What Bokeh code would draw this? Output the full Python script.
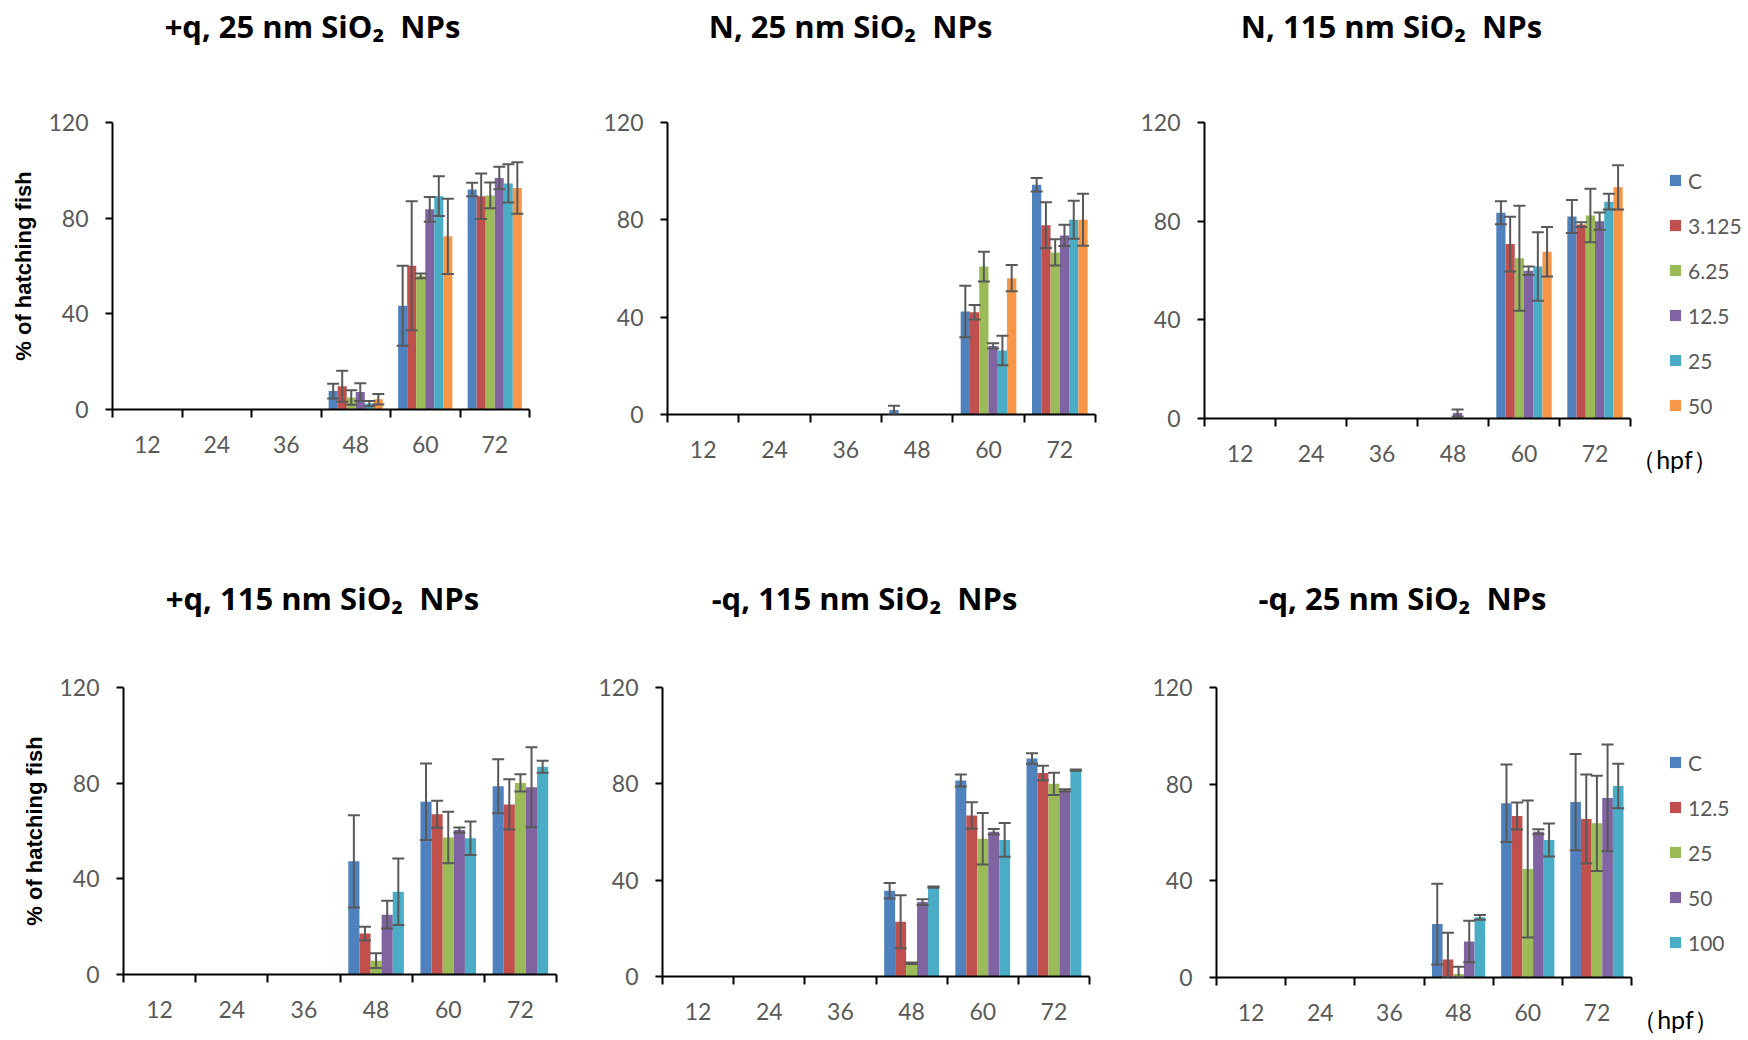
from bokeh.plotting import figure
from bokeh.models import (Range1d, FixedTicker, Whisker, TeeHead, ColumnDataSource,
                          Label, Legend, LegendItem, LinearAxis)
from bokeh.layouts import row, column
from bokeh.embed import file_html
from bokeh.resources import INLINE

# ---------------- data ----------------
hpf = ["12", "24", "36", "48", "60", "72"]
series_a = ["C", "3.125", "6.25", "12.5", "25", "50"]
series_b = ["C", "12.5", "25", "50", "100"]
colors = ["#4F81BD", "#C0504D", "#9BBB59", "#8064A2", "#4BACC6", "#F79646"]
unit_label = "\uff08hpf\uff09"

titles = ["+q, 25 nm SiO\u2082\u00a0 NPs", "N, 25 nm SiO\u2082\u00a0 NPs", "N, 115 nm SiO\u2082\u00a0 NPs",
          "+q, 115 nm SiO\u2082\u00a0 NPs", "-q, 115 nm SiO\u2082\u00a0 NPs", "-q, 25 nm SiO\u2082\u00a0 NPs"]

# +q, 25 nm (rows = series_a, columns = hpf)
p1_mean = [[0, 0, 0, 7.7, 43.4, 92.0],
           [0, 0, 0, 9.7, 60.1, 89.2],
           [0, 0, 0, 5.0, 55.9, 89.5],
           [0, 0, 0, 7.3, 83.7, 96.8],
           [0, 0, 0, 2.5, 89.2, 94.5],
           [0, 0, 0, 4.3, 72.4, 92.6]]
p1_err = [[0, 0, 0, 3.1, 16.7, 2.8],
          [0, 0, 0, 6.5, 27.0, 9.5],
          [0, 0, 0, 3.0, 1.0, 5.4],
          [0, 0, 0, 3.7, 5.2, 4.7],
          [0, 0, 0, 1.1, 8.3, 8.0],
          [0, 0, 0, 2.2, 15.7, 10.8]]

# N, 25 nm
p2_mean = [[0, 0, 0, 1.8, 42.3, 94.4],
           [0, 0, 0, 0, 42.0, 77.8],
           [0, 0, 0, 0, 60.8, 66.6],
           [0, 0, 0, 0, 28.2, 73.6],
           [0, 0, 0, 0, 26.3, 80.0],
           [0, 0, 0, 0, 56.0, 80.0]]
p2_err = [[0, 0, 0, 1.8, 10.6, 2.8],
          [0, 0, 0, 0, 3.0, 9.4],
          [0, 0, 0, 0, 6.1, 5.4],
          [0, 0, 0, 0, 1.1, 4.4],
          [0, 0, 0, 0, 6.1, 7.8],
          [0, 0, 0, 0, 5.4, 10.7]]

# N, 115 nm
p3_mean = [[0, 0, 0, 0, 83.4, 81.9],
           [0, 0, 0, 0, 70.7, 78.6],
           [0, 0, 0, 0, 65.0, 82.3],
           [0, 0, 0, 2.2, 59.9, 80.0],
           [0, 0, 0, 0, 61.6, 87.9],
           [0, 0, 0, 0, 67.6, 93.7]]
p3_err = [[0, 0, 0, 0, 4.7, 6.7],
          [0, 0, 0, 0, 11.1, 1.0],
          [0, 0, 0, 0, 21.3, 10.8],
          [0, 0, 0, 1.4, 1.7, 3.5],
          [0, 0, 0, 0, 13.9, 3.2],
          [0, 0, 0, 0, 10.0, 9.0]]

# +q, 115 nm (rows = series_b)
p4_mean = [[0, 0, 0, 47.3, 72.2, 78.7],
           [0, 0, 0, 17.1, 67.0, 71.1],
           [0, 0, 0, 5.8, 57.3, 80.1],
           [0, 0, 0, 25.0, 60.4, 78.3],
           [0, 0, 0, 34.6, 57.0, 86.9]]
p4_err = [[0, 0, 0, 19.3, 16.0, 11.3],
          [0, 0, 0, 2.9, 5.6, 10.5],
          [0, 0, 0, 3.1, 10.8, 3.6],
          [0, 0, 0, 5.8, 1.1, 16.7],
          [0, 0, 0, 13.9, 7.0, 2.5]]

# -q, 115 nm
p5_mean = [[0, 0, 0, 35.6, 81.4, 90.5],
           [0, 0, 0, 22.7, 66.9, 84.5],
           [0, 0, 0, 5.5, 57.2, 80.0],
           [0, 0, 0, 30.9, 60.1, 77.3],
           [0, 0, 0, 37.1, 56.7, 85.7]]
p5_err = [[0, 0, 0, 3.2, 2.5, 2.2],
          [0, 0, 0, 11.0, 5.5, 3.0],
          [0, 0, 0, 0.3, 10.7, 4.6],
          [0, 0, 0, 1.2, 1.1, 0.5],
          [0, 0, 0, 0.3, 7.0, 0.3]]

# -q, 25 nm
p6_mean = [[0, 0, 0, 22.1, 72.1, 72.6],
           [0, 0, 0, 7.4, 66.8, 65.6],
           [0, 0, 0, 1.5, 44.9, 63.8],
           [0, 0, 0, 14.9, 60.3, 74.3],
           [0, 0, 0, 24.9, 56.9, 79.2]]
p6_err = [[0, 0, 0, 16.7, 16.0, 19.9],
          [0, 0, 0, 11.1, 5.6, 18.4],
          [0, 0, 0, 3.0, 28.3, 19.7],
          [0, 0, 0, 8.6, 1.0, 22.1],
          [0, 0, 0, 1.0, 6.8, 9.2]]

y_ticks = [0, 40, 80, 120]

# ---------------- styling ----------------
FONT = "Lato"
TITLE_FONT = "Open Sans"
GRAY = "#595959"
ERR = "#595959"
# leading blank so that the centred unit label starts at the right end of the axis
UNIT_PAD = "\u3000\u3000\u3000\u00a0\u00a0"


def blank(W, H, x0, y0):
    """A figure without axes whose data units are page pixels (y downwards)."""
    p = figure(frame_width=W, frame_height=H, x_range=Range1d(x0, x0 + W),
               y_range=Range1d(y0 + H, y0), output_backend="svg", toolbar_location=None,
               x_axis_type=None, y_axis_type=None, min_border=0, title=None)
    p.outline_line_color = None
    p.grid.visible = False
    return p


def make_panel(series, means, errs, origin, frame, fig_size, ylabel=False, legend=None,
               unit_standoff=None):
    ox, oy = origin
    fl, ft, fw, fh = frame          # frame in page pixels
    W, H = fig_size
    mbl = fl - ox
    mbt = ft - oy
    p = figure(frame_width=fw, frame_height=fh, x_range=Range1d(0, len(hpf)),
               y_range=Range1d(0, 120), output_backend="svg", toolbar_location=None, title=None,
               min_border_left=mbl, min_border_top=mbt,
               min_border_right=W - mbl - fw, min_border_bottom=H - mbt - fh)
    p.background_fill_color = "white"
    p.border_fill_color = "white"
    p.outline_line_color = None
    p.xgrid.visible = False
    p.ygrid.visible = False

    n = len(series)
    bw = (0.78 if n == 6 else 0.77) / n
    renderers = []
    for j, name in enumerate(series):
        xs = [i + 0.5 + (j - (n - 1) / 2) * bw for i in range(len(hpf))]
        src = ColumnDataSource(dict(x=xs, top=means[j]))
        r = p.vbar(x="x", top="top", bottom=0, width=bw, source=src,
                   fill_color=colors[j], line_color=None)
        renderers.append(r)
        wx, up, lo = [], [], []
        for i in range(len(hpf)):
            if means[j][i] > 0 or errs[j][i] > 0:
                wx.append(xs[i])
                up.append(means[j][i] + errs[j][i])
                lo.append(max(0, means[j][i] - errs[j][i]))
        wsrc = ColumnDataSource(dict(x=wx, upper=up, lower=lo))
        wk = Whisker(source=wsrc, base="x", upper="upper", lower="lower", level="overlay",
                     line_color=ERR, line_width=2,
                     upper_head=TeeHead(size=12, line_color=ERR, line_width=2),
                     lower_head=TeeHead(size=12, line_color=ERR, line_width=2))
        p.add_layout(wk)

    # x axis: boundary tick marks (minor), labels at centres
    xa = p.xaxis[0]
    centres = [i + 0.5 for i in range(len(hpf))]
    xa.ticker = FixedTicker(ticks=centres, minor_ticks=list(range(len(hpf) + 1)))
    xa.major_label_overrides = {c: lab for c, lab in zip(centres, hpf)}
    xa.major_tick_line_color = None
    xa.major_tick_out = 0
    xa.major_tick_in = 0
    xa.minor_tick_out = 8
    xa.minor_tick_in = 0
    xa.minor_tick_line_color = "black"
    xa.minor_tick_line_width = 2
    xa.axis_line_color = "black"
    xa.axis_line_width = 2
    xa.major_label_text_font = FONT
    xa.major_label_text_font_size = "23px"
    xa.major_label_text_color = GRAY
    xa.major_label_standoff = 18

    ya = p.yaxis[0]
    ya.ticker = FixedTicker(ticks=y_ticks, minor_ticks=[])
    ya.major_tick_out = 7
    ya.major_tick_in = 0
    ya.major_tick_line_color = "black"
    ya.major_tick_line_width = 2
    ya.minor_tick_line_color = None
    ya.axis_line_color = "black"
    ya.axis_line_width = 2
    ya.major_label_text_font = FONT
    ya.major_label_text_font_size = "23px"
    ya.major_label_text_color = GRAY
    ya.major_label_standoff = 17
    if ylabel:
        ya.axis_label = "% of hatching fish"
        ya.axis_label_text_font = "Liberation Sans"
        ya.axis_label_text_font_style = "bold"
        ya.axis_label_text_font_size = "22px"
        ya.axis_label_text_color = "black"
        ya.axis_label_standoff = 9

    if unit_standoff is not None:
        # unit label at the right end of the category axis (second, line-less axis)
        ua = LinearAxis(ticker=FixedTicker(ticks=[len(hpf)], minor_ticks=[]),
                        major_label_overrides={len(hpf): UNIT_PAD + unit_label},
                        axis_line_color=None, major_tick_line_color=None,
                        minor_tick_line_color=None, major_tick_out=0, major_tick_in=0,
                        major_label_standoff=unit_standoff,
                        major_label_text_font=FONT, major_label_text_font_size="25px",
                        major_label_text_color="black")
        p.add_layout(ua, "below")

    if legend is not None:
        glyph_left, first_centre = legend
        item_h, spacing = 25, 20
        height = n * item_h + (n - 1) * spacing
        top = first_centre - item_h / 2
        leg = Legend(items=[LegendItem(label=s, renderers=[r]) for s, r in zip(series, renderers)],
                     location=(glyph_left - (fl + fw), (ft + fh) - (top + height)),
                     padding=0, margin=0, spacing=spacing,
                     label_height=item_h, glyph_height=14, glyph_width=14, label_standoff=6,
                     label_text_font=FONT, label_text_font_size="21px", label_text_color=GRAY,
                     border_line_color=None, background_fill_alpha=0)
        p.add_layout(leg, "right")
    return p


def title_strip(W, H, x0, y0, items):
    p = blank(W, H, x0, y0)
    for text, (cx, cy) in items:
        p.add_layout(Label(x=cx, y=cy, text=text, text_align="center", text_baseline="middle",
                           text_font=TITLE_FONT, text_font_style="bold", text_font_size="31px",
                           text_color="black"))
    return p


# page layout in picture pixels (frames of one row share their top edge)
top_titles = title_strip(1744, 60, 0, 0, [(titles[0], (312, 25)), (titles[1], (850, 25)),
                                          (titles[2], (1391, 25))])
f1 = make_panel(series_a, p1_mean, p1_err, (0, 60), (112, 122, 417, 287), (552, 462), ylabel=True)
f2 = make_panel(series_a, p2_mean, p2_err, (552, 60), (667, 122, 428, 292), (560, 462))
f3 = make_panel(series_a, p3_mean, p3_err, (1112, 60), (1204, 122, 426, 296), (632, 462),
                legend=(1668, 180), unit_standoff=-21)

bot_titles = title_strip(1744, 100, 0, 522, [(titles[3], (322, 597)), (titles[4], (864, 597)),
                                             (titles[5], (1402, 597))])
f4 = make_panel(series_b, p4_mean, p4_err, (0, 622), (123, 687, 433, 287), (572, 414), ylabel=True)
f5 = make_panel(series_b, p5_mean, p5_err, (572, 622), (662, 687, 427, 289), (550, 414))
f6 = make_panel(series_b, p6_mean, p6_err, (1122, 622), (1216, 687, 415, 290), (622, 414),
                legend=(1668, 762), unit_standoff=-20)

layout = column(top_titles, row(f1, f2, f3), bot_titles, row(f4, f5, f6))
open("out.html", "w").write(file_html(layout, INLINE))
